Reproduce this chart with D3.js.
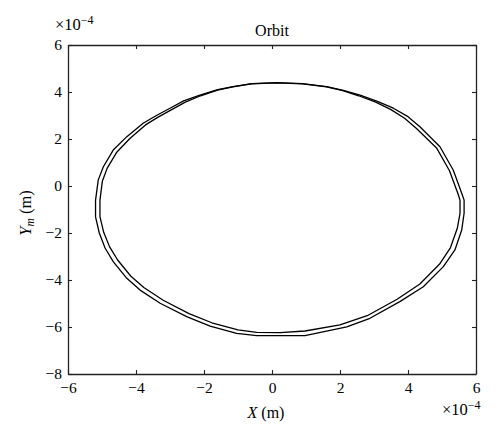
<!DOCTYPE html>
<html>
<head>
<meta charset="utf-8">
<script src="https://cdn.jsdelivr.net/npm/d3@7"></script>
<style>
  body { margin: 0; background: #fff; }
  text { font-family: "Liberation Serif", "DejaVu Serif", serif; fill: #000; }
</style>
</head>
<body>
<svg id="chart"></svg>
<script>
// orbit samples, units of 1e-4 m
let outerX = [0.14, -0.6, -1.15, -1.6, -2.12, -2.6, -3.0, -3.4, -3.79, -4.27, -4.67, -4.96, -5.11, -5.19, -5.19, -5.08, -4.91, -4.67, -4.27, -3.88, -3.29, -2.51, -1.82, -1.04, -0.45, 0.97, 2.2, 2.88, 3.76, 4.45, 5.04, 5.38, 5.58, 5.65, 5.65, 5.58, 5.33, 4.94, 4.35, 4.0, 3.57, 3.1, 2.59, 2.1, 1.61, 0.9];
let outerY = [4.40, 4.36, 4.23, 4.10, 3.87, 3.62, 3.31, 3.0, 2.67, 2.10, 1.53, 0.82, 0.26, -0.60, -1.31, -2.0, -2.64, -3.22, -3.93, -4.43, -4.99, -5.56, -5.96, -6.27, -6.37, -6.37, -5.99, -5.63, -4.92, -4.29, -3.43, -2.72, -1.87, -1.16, -0.6, -0.31, 0.68, 1.67, 2.52, 2.95, 3.31, 3.6, 3.87, 4.07, 4.23, 4.36];

let innerX = [0.14, -0.6, -1.15, -1.6, -2.10, -2.55, -2.95, -3.35, -3.72, -4.18, -4.56, -4.85, -4.99, -5.06, -5.06, -4.95, -4.78, -4.54, -4.15, -3.77, -3.2, -2.44, -1.77, -1.0, -0.45, 0.24, 0.97, 2.0, 2.8, 3.68, 4.35, 4.93, 5.25, 5.45, 5.53, 5.53, 5.47, 5.22, 4.84, 4.25, 3.9, 3.5, 3.05, 2.55, 2.08, 1.6, 0.9];
let innerY = [4.39, 4.35, 4.22, 4.08, 3.84, 3.57, 3.25, 2.93, 2.60, 2.02, 1.45, 0.75, 0.2, -0.6, -1.3, -1.97, -2.58, -3.15, -3.84, -4.32, -4.86, -5.43, -5.82, -6.12, -6.23, -6.24, -6.17, -5.91, -5.52, -4.82, -4.17, -3.32, -2.62, -1.8, -1.16, -0.6, -0.33, 0.65, 1.62, 2.45, 2.88, 3.25, 3.57, 3.84, 4.06, 4.22, 4.35];

let xTicks = [-6, -4, -2, 0, 2, 4, 6];
let yTicks = [-8, -6, -4, -2, 0, 2, 4, 6];

let width = 500;
let height = 440;
let padLeft = 68, padRight = 476, padTop = 45, padBottom = 374;

let svg = d3.select("#chart").attr("width", width).attr("height", height);

let xScale = d3.scaleLinear().domain([-6, 6]).range([padLeft, padRight]);
let yScale = d3.scaleLinear().domain([-8, 6]).range([padBottom, padTop]);

let fmt = (d) => (d < 0 ? "\u2212" + Math.abs(d) : "" + d);

// axes, ticks pointing inward on all four sides
let drawAxes = () => {
  let xb = d3.axisBottom(xScale).tickValues(xTicks).tickSizeInner(-4).tickSizeOuter(0).tickPadding(8).tickFormat(fmt);
  let xt = d3.axisTop(xScale).tickValues(xTicks).tickSizeInner(-4).tickSizeOuter(0).tickFormat("");
  let yl = d3.axisLeft(yScale).tickValues(yTicks).tickSizeInner(-4).tickSizeOuter(0).tickPadding(6).tickFormat(fmt);
  let yr = d3.axisRight(yScale).tickValues(yTicks).tickSizeInner(-4).tickSizeOuter(0).tickFormat("");

  svg.append("g").attr("transform", "translate(0," + padBottom + ")").call(xb);
  svg.append("g").attr("transform", "translate(0," + padTop + ")").call(xt);
  svg.append("g").attr("transform", "translate(" + padLeft + ",0)").call(yl);
  svg.append("g").attr("transform", "translate(" + padRight + ",0)").call(yr);

  svg.selectAll("g").attr("font-size", 15.5).attr("font-family", null);
  svg.selectAll(".domain").attr("stroke", "#222").attr("stroke-width", 1.3);
  svg.selectAll(".tick line").attr("stroke", "#222").attr("stroke-width", 1.1);
  svg.selectAll(".tick text").attr("fill", "#000");
};

let drawOrbit = () => {
  let line = d3.line()
    .x((d) => xScale(d[0]))
    .y((d) => yScale(d[1]))
    .curve(d3.curveLinearClosed);

  let outer = outerX.map((x, i) => [x, outerY[i]]);
  let inner = innerX.map((x, i) => [x, innerY[i]]);

  svg.selectAll("path.orbit")
    .data([outer, inner])
    .enter()
    .append("path")
    .attr("class", "orbit")
    .attr("d", line)
    .attr("fill", "none")
    .attr("stroke", "#000")
    .attr("stroke-width", 1.3)
    .attr("stroke-linejoin", "round");
};

let drawLabels = () => {
  svg.append("text")
    .attr("x", 272)
    .attr("y", 36)
    .attr("text-anchor", "middle")
    .style("font-size", "16px")
    .text("Orbit");

  // exponent labels
  let expo = (x, y) => {
    let t = svg.append("text").attr("x", x).attr("y", y).style("font-size", "16.5px");
    t.append("tspan").text("\u00d710");
    t.append("tspan").attr("dy", -6).style("font-size", "12px").text("\u22124");
  };
  expo(55, 30);
  expo(442, 415);

  let xl = svg.append("text")
    .attr("x", 266)
    .attr("y", 418)
    .attr("text-anchor", "middle")
    .style("font-size", "16px");
  xl.append("tspan").attr("font-style", "italic").text("X");
  xl.append("tspan").text(" (m)");

  let yl = svg.append("text")
    .attr("transform", "translate(31,213) rotate(-90)")
    .attr("text-anchor", "middle")
    .style("font-size", "16.5px");
  yl.append("tspan").attr("font-style", "italic").text("Y");
  yl.append("tspan").attr("font-style", "italic").style("font-size", "11.5px").attr("dy", 3).text("m");
  yl.append("tspan").attr("dy", -3).text(" (m)");
};

drawAxes();
drawOrbit();
drawLabels();
</script>
</body>
</html>
